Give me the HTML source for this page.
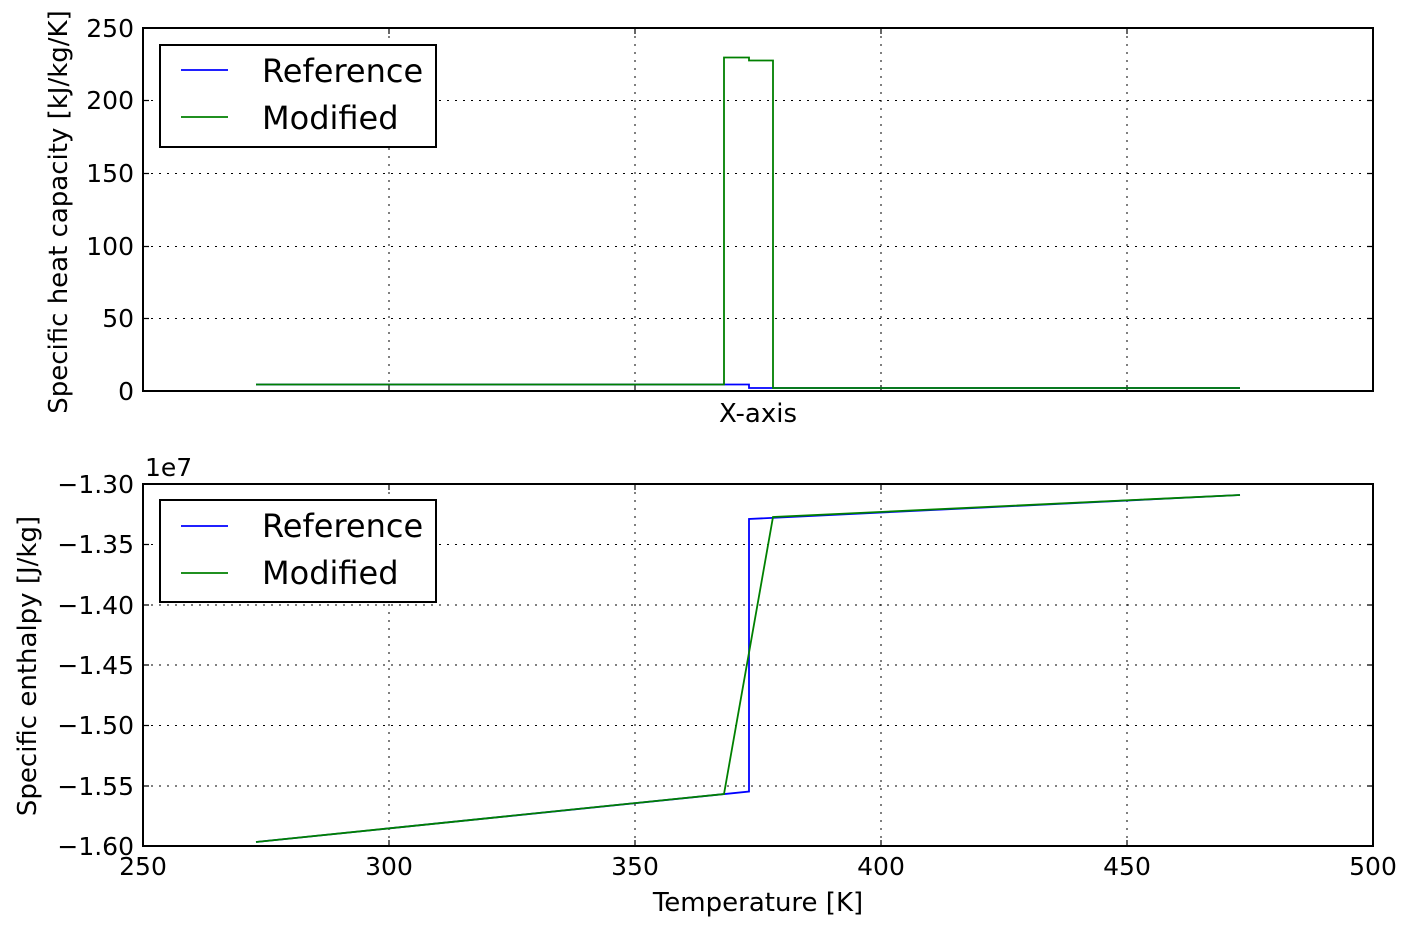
<!DOCTYPE html>
<html><head><meta charset="utf-8"><style>body{margin:0;background:#fff}svg{display:block}text{font-family:"DejaVu Sans","Liberation Sans",sans-serif;fill:#000}</style></head><body>
<svg width="1413" height="934" viewBox="0 0 1413 934" xmlns="http://www.w3.org/2000/svg">
<rect width="1413" height="934" fill="#fff"/>
<g stroke="#000" stroke-width="1" stroke-dasharray="2,6" fill="none">
<path d="M389 28V391M635 28V391M881 28V391M1127 28V391M143 100.5H1373M143 173.5H1373M143 246.5H1373M143 318.5H1373"/>
<path d="M389 484V846M635 484V846M881 484V846M1127 484V846M143 544.5H1373M143 605H1373M143 665H1373M143 725.5H1373M143 786H1373"/>
</g>
<g stroke="#000" stroke-width="1.2">
<path d="M389 28v6M635 28v6M881 28v6M1127 28v6M389 391v-6M635 391v-6M881 391v-6M1127 391v-6M143 100.5h6M143 173.5h6M143 246.5h6M143 318.5h6M1373 100.5h-6M1373 173.5h-6M1373 246.5h-6M1373 318.5h-6"/>
<path d="M389 484v6M635 484v6M881 484v6M1127 484v6M389 846v-6M635 846v-6M881 846v-6M1127 846v-6M143 544.5h6M143 605h6M143 665h6M143 725.5h6M143 786h6M1373 544.5h-6M1373 605h-6M1373 665h-6M1373 725.5h-6M1373 786h-6"/>
</g>
<polyline fill="none" stroke="#0000ff" stroke-width="1.8" points="256,384.5 749,384.5 749,388 1240,388"/>
<polyline fill="none" stroke="#008000" stroke-width="1.8" points="256,384.5 724,384.5 724,57.5 749,57.5 749,60.5 773,60.5 773,388 1240,388"/>
<polyline fill="none" stroke="#0000ff" stroke-width="1.8" points="256,842 749,791.5 749,519 1240,495"/>
<polyline fill="none" stroke="#008000" stroke-width="1.8" points="256,842 724,794 773,517 1240,495"/>
<rect x="143" y="28" width="1230" height="363" fill="none" stroke="#000" stroke-width="2"/>
<rect x="143" y="484" width="1230" height="362" fill="none" stroke="#000" stroke-width="2"/>
<g font-size="25">
<g text-anchor="end">
<text x="134" y="37">250</text><text x="134" y="109">200</text><text x="134" y="182">150</text><text x="134" y="255">100</text><text x="134" y="327">50</text><text x="134" y="400">0</text>
<text x="134" y="493">−1.30</text><text x="134" y="553">−1.35</text><text x="134" y="614">−1.40</text><text x="134" y="674">−1.45</text><text x="134" y="734">−1.50</text><text x="134" y="795">−1.55</text><text x="134" y="855">−1.60</text>
</g>
<text x="145" y="476">1e7</text>
<g text-anchor="middle">
<text x="143" y="875">250</text><text x="389" y="875">300</text><text x="635" y="875">350</text><text x="881" y="875">400</text><text x="1127" y="875">450</text><text x="1373" y="875">500</text>
</g>
</g>
<g font-size="26" text-anchor="middle">
<text x="758" y="422">X-axis</text>
<text x="758" y="911">Temperature [K]</text>
<text transform="translate(67,212) rotate(-90)">Specific heat capacity [kJ/kg/K]</text>
<text transform="translate(36,666) rotate(-90)">Specific enthalpy [J/kg]</text>
</g>
<g>
<rect x="160" y="45" width="276" height="102" fill="#fff" stroke="#000" stroke-width="2"/>
<path d="M181 70h47" stroke="#0000ff" stroke-width="1.8"/><path d="M181 117h47" stroke="#008000" stroke-width="1.8"/>
<text x="262" y="82" font-size="32">Reference</text><text x="262" y="129" font-size="32">Modified</text>
<rect x="160" y="500" width="276" height="102" fill="#fff" stroke="#000" stroke-width="2"/>
<path d="M181 526h47" stroke="#0000ff" stroke-width="1.8"/><path d="M181 573h47" stroke="#008000" stroke-width="1.8"/>
<text x="262" y="537" font-size="32">Reference</text><text x="262" y="584" font-size="32">Modified</text>
</g>
</svg>
</body></html>
